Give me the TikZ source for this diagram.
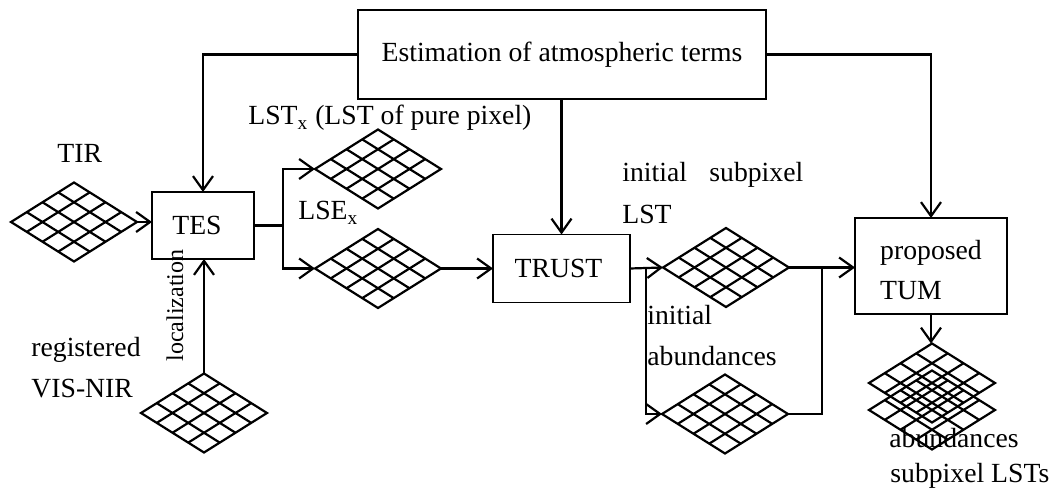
\documentclass[tikz,border=0pt]{standalone}
\usepackage{fontspec}
\setmainfont{Liberation Serif}
\usetikzlibrary{arrows.meta,shapes.geometric,calc}
\newcommand\pixlines[1]{%
  \foreach \f in {0.25,0.5,0.75}{%
    \draw[gline] ($(#1.west)!\f!(#1.north)$) -- ($(#1.south)!\f!(#1.east)$);
    \draw[gline] ($(#1.west)!\f!(#1.south)$) -- ($(#1.north)!\f!(#1.east)$);
  }}
\begin{document}
\begin{tikzpicture}[x=0.5pt,y=-0.5pt,
  box/.style={draw,line width=0.8pt,inner sep=0pt,outer sep=0pt,font=\fontsize{13.85}{20}\selectfont},
  pixgrid/.style={diamond,draw,line width=1.1pt,inner sep=0pt,outer sep=0pt,minimum width=63pt,minimum height=39.5pt},
  conn/.style={line width=1.1pt},
  arr/.style={conn,-{Straight Barb[length=7pt,width=10pt]}},
  lbl/.style={inner sep=0pt,anchor=base west,font=\fontsize{13.85}{20}\selectfont},
  gline/.style={line width=1.1pt}]
\useasboundingbox (0,0) rectangle (1056,497);

% boxes
\node[box,minimum width=204pt,minimum height=44.5pt] (est) at (562,54.5) {Estimation of atmospheric terms};
\node[box,minimum width=51pt,minimum height=33.5pt] (tes) at (203,225.5) {TES\hspace*{6pt}};
\node[box,minimum width=68.5pt,minimum height=34pt] (trust) at (561.5,268.5) {TRUST\hspace*{3pt}};
\node[box,minimum width=76pt,minimum height=48pt,align=left] (tum) at (931,266) {\rule{0pt}{14pt}proposed\\TUM};

% pixel grids
\node[pixgrid] (tir) at (74,222) {};
\node[pixgrid] (lst) at (378,169) {};
\node[pixgrid] (lse) at (378,268.5) {};
\node[pixgrid] (vis) at (204,413) {};
\node[pixgrid] (isub) at (726,267.5) {};
\node[pixgrid] (iab) at (725,414) {};
\node[pixgrid] (outa) at (932,383) {};
\node[pixgrid] (outb) at (932,410) {};
\pixlines{tir}
\pixlines{lst}
\pixlines{lse}
\pixlines{vis}
\pixlines{isub}
\pixlines{iab}
\pixlines{outa}
\pixlines{outb}

% labels
\node[lbl] (ltir) at (57,163) {TIR};
\node[lbl] (llst) at (248,125) {LST\textsubscript{x} (LST of pure pixel)};
\node[lbl] (llse) at (298,220) {LSE\textsubscript{x}};
\node[lbl] (lreg) at (31,357) {registered};
\node[lbl] (lvis) at (31,398) {VIS-NIR};
\node[inner sep=0pt,anchor=base west,rotate=90,font=\fontsize{12}{14}\selectfont] (lloc) at (183,362) {localization};
\node[lbl] (lini1) at (622,182) {initial};
\node[lbl] (lsub) at (709,182) {subpixel};
\node[lbl] (llstb) at (622,224) {LST};
\node[lbl] (lini2) at (647,325) {initial};
\node[lbl] (labu) at (647,366) {abundances};
\node[lbl] (labo) at (889,448) {abundances};
\node[lbl] (lsls) at (890,482) {subpixel LSTs};

% junctions
\coordinate (j1) at (283,225.5);
\coordinate (j2) at (646,268);
\coordinate (j3) at (822,267.5);

% connectors
\draw[arr] (est.west) -| (tes.north);
\draw[arr] (est.east) -| (tum.north);
\draw[arr] (est.south -| trust.north) -- (trust.north);
\draw[arr] (tir.east) -- (tir.east -| tes.west);
\draw[arr] (vis.north) -- (vis.north |- tes.south);
\draw[conn] (tes.east) -- (j1);
\draw[arr] (j1) |- (lst.west);
\draw[arr] (j1) |- (lse.west);
\draw[arr] (lse.east) -- (lse.east -| trust.west);
\draw[arr] (trust.east) -- (isub.west);
\draw[arr] (j2) |- (iab.west);
\draw[arr] (isub.east) -- (isub.east -| tum.west);
\draw[conn] (iab.east) -| (j3);
\draw[arr] (tum.south) -- (tum.south |- outa.north);
\end{tikzpicture}
\end{document}
